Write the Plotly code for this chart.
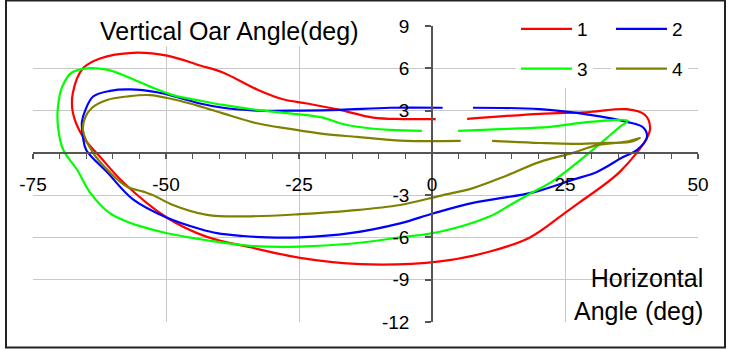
import plotly.graph_objects as go

# ---- data ----
names = ["1", "2", "3", "4"]
colors = ["#FF0000", "#0000FF", "#00FF00", "#808000"]

s1_x = [6.6, 20.3, 29.7, 36.6, 40.0, 41.0, 40.4, 35.3, 27.8, 25.0, 18.4, 10.9, 1.5, -13.5, -24.8,
        -34.2, -42.3, -49.8, -58.0, -62.4, -65.6, -67.5, -67.5, -65.6, -62.4, -56.2, -49.8, -43.6,
        -39.3, -32.9, -28.0, -23.5, -17.3, -11.1, -5.4, 0.7]
s1_y = [2.41, 2.77, 2.9, 3.1, 2.7, 1.8, 1.06, -1.35, -3.5, -4.26, -6.0, -7.0, -7.7, -7.9, -7.45,
        -6.7, -5.96, -4.6, -2.1, -0.28, 1.13, 2.84, 4.26, 6.0, 6.7, 7.1, 6.9, 6.2,
        5.7, 4.5, 3.8, 3.5, 3.05, 2.5, 2.4, 2.4]

s2_x = [7.7, 20.3, 29.7, 36.6, 39.7, 40.4, 38.5, 35.9, 31.0, 26.5, 19.0, 7.7, 0.2, -6.0, -15.4,
        -24.8, -31.0, -35.5, -40.4, -43.6, -49.8, -56.2, -61.0, -65.0, -65.6, -65.8, -65.2, -63.7,
        -60.5, -56.8, -51.7, -47.4, -43.6, -39.3, -32.9, -24.8, -17.3, -7.9, 2.0]
s2_y = [3.2, 3.1, 2.7, 2.2, 1.8, 1.1, 0.2, -0.3, -1.35, -1.9, -2.8, -3.55, -4.3, -5.0, -5.7,
        -6.0, -6.0, -5.9, -5.7, -5.4, -4.6, -3.3, -1.4, 0.2, 1.1, 2.2, 3.0, 4.0,
        4.4, 4.5, 4.3, 3.9, 3.5, 3.2, 3.0, 3.0, 3.05, 3.2, 3.2]

s3_x = [4.9, 14.1, 22.2, 29.7, 36.8, 35.3, 32.9, 28.4, 22.7, 18.4, 14.7, 10.9, 1.5, -6.0, -15.4,
        -24.8, -34.2, -42.3, -49.8, -54.9, -56.8, -60.5, -64.3, -66.7, -69.3, -70.3, -70.3, -69.5,
        -67.7, -64.8, -61.1, -57.3, -53.0, -48.7, -43.6, -39.3, -32.9, -26.7, -20.5, -17.3, -14.1,
        -7.9, -1.9]
s3_y = [1.56, 1.7, 1.85, 2.2, 2.27, 1.85, 1.06, -0.35, -2.0, -2.9, -3.7, -4.5, -5.6, -6.0, -6.45,
        -6.65, -6.6, -6.2, -5.7, -5.2, -4.96, -4.3, -2.8, -1.2, 0.2, 1.85, 3.3, 4.7,
        5.7, 6.0, 5.9, 5.4, 4.7, 4.1, 3.7, 3.4, 3.05, 2.8, 2.5, 2.1, 1.85,
        1.63, 1.56]

s4_x = [11.3, 20.3, 26.5, 31.6, 37.2, 39.1, 36.6, 31.0, 26.5, 20.3, 14.1, 7.7, 1.5, -6.0, -15.4,
        -24.8, -34.2, -42.3, -48.7, -52.4, -54.3, -57.3, -60.5, -63.7, -65.6, -65.2, -63.9, -61.1,
        -57.3, -53.0, -48.7, -43.6, -39.3, -32.9, -26.7, -20.5, -14.1, -7.9, -4.7, 5.4]
s4_y = [0.85, 0.7, 0.64, 0.7, 0.78, 1.06, 0.8, 0.55, 0.0, -0.64, -1.6, -2.5, -3.05, -3.7, -4.1,
        -4.35, -4.5, -4.4, -3.7, -3.0, -2.75, -2.4, -1.4, 0.0, 1.6, 2.5, 3.2, 3.75,
        4.0, 4.1, 3.8, 3.3, 2.8, 2.1, 1.7, 1.35, 1.13, 0.92, 0.85, 0.85]

x_ticks = [-75, -50, -25, 0, 25, 50]
y_ticks = [-12, -9, -6, -3, 0, 3, 6, 9]
y_ticktext = ["-12", "-9", "-6", "-3", "", "3", "6", "9"]

title_text = "Vertical Oar Angle(deg)"
xlabel_text = "Horizontal<br>Angle (deg)"

series = [(s1_x, s1_y), (s2_x, s2_y), (s3_x, s3_y), (s4_x, s4_y)]
legend_of = ["legend", "legend2", "legend", "legend2"]

# the page's body margin is removed (post_script), so figure pixels == screen pixels
W, H = 731, 349
L, T = 33, 26
R = W - 698
B = H - 322
PW, PH = W - L - R, H - T - B


def px2paper_x(px):
    return (px - L) / PW


def px2paper_y(py):
    return (H - B - py) / PH


fig = go.Figure()
for i, (xs, ys) in enumerate(series):
    fig.add_trace(go.Scatter(
        x=xs, y=ys, mode="lines", name=names[i],
        line=dict(color=colors[i], width=2.2, shape="spline", smoothing=1.0),
        legend=legend_of[i], legendgroup=names[i],
    ))

axis_col = "#555555"
grid_col = "#C8C8C8"

fig.update_layout(
    width=W, height=H,
    margin=dict(l=L, r=R, t=T, b=B, autoexpand=False),
    paper_bgcolor="white", plot_bgcolor="white",
    font=dict(family="Liberation Sans, Arial, sans-serif", size=19, color="black"),
    xaxis=dict(
        range=[-75, 50], tickvals=x_ticks, ticktext=[str(v) for v in x_ticks],
        showgrid=True, gridcolor=grid_col, gridwidth=1, zeroline=False,
        showline=True, linecolor=axis_col, linewidth=1.5,
        ticks="outside", ticklen=5, tickcolor=axis_col, tickwidth=1.5,
        minor=dict(dtick=5, tick0=-75, ticks="outside", ticklen=5, tickcolor=axis_col,
                   tickwidth=1.2, showgrid=False),
        anchor="free", position=px2paper_y(153), ticklabelstandoff=9,
        tickfont=dict(size=19), automargin=False,
    ),
    yaxis=dict(
        range=[-12, 9], tickvals=y_ticks, ticktext=y_ticktext,
        showgrid=True, gridcolor=grid_col, gridwidth=1, zeroline=False,
        showline=True, linecolor=axis_col, linewidth=1.5,
        ticks="outside", ticklen=6, tickcolor=axis_col, tickwidth=1.5,
        anchor="free", position=px2paper_x(432), ticklabelstandoff=12,
        tickfont=dict(size=19), automargin=False,
    ),
    legend=dict(
        x=px2paper_x(516), y=px2paper_y(10), xanchor="left", yanchor="top",
        bgcolor="white", borderwidth=0, tracegroupgap=12,
        font=dict(size=19), itemwidth=51,
    ),
    legend2=dict(
        x=px2paper_x(611), y=px2paper_y(10), xanchor="left", yanchor="top",
        bgcolor="white", borderwidth=0, tracegroupgap=12,
        font=dict(size=19), itemwidth=51,
    ),
    showlegend=True,
)

fig.add_annotation(
    text=title_text, xref="paper", yref="paper",
    x=px2paper_x(229), y=px2paper_y(31), xanchor="center", yanchor="middle",
    showarrow=False, font=dict(size=25), bgcolor="white",
)
fig.add_annotation(
    text=xlabel_text, xref="paper", yref="paper",
    x=px2paper_x(705), y=px2paper_y(327), xanchor="right", yanchor="bottom",
    showarrow=False, font=dict(size=25), align="right",
)

# white patch behind the legends (covers gridlines like the reference)
fig.add_shape(
    type="rect", xref="paper", yref="paper",
    x0=px2paper_x(506), x1=px2paper_x(694), y0=px2paper_y(89), y1=px2paper_y(8),
    line=dict(width=0), fillcolor="white", layer="below",
)

# outer chart frame
fig.add_shape(
    type="rect", xref="paper", yref="paper",
    x0=px2paper_x(6), x1=px2paper_x(725), y0=px2paper_y(347.5), y1=px2paper_y(0.5),
    line=dict(color="#222222", width=2), fillcolor="rgba(0,0,0,0)", layer="above",
)

fig.write_html(
    "out.html",
    config={"displayModeBar": False},
    post_script="document.body.style.margin='0';document.body.style.overflow='hidden';",
)
